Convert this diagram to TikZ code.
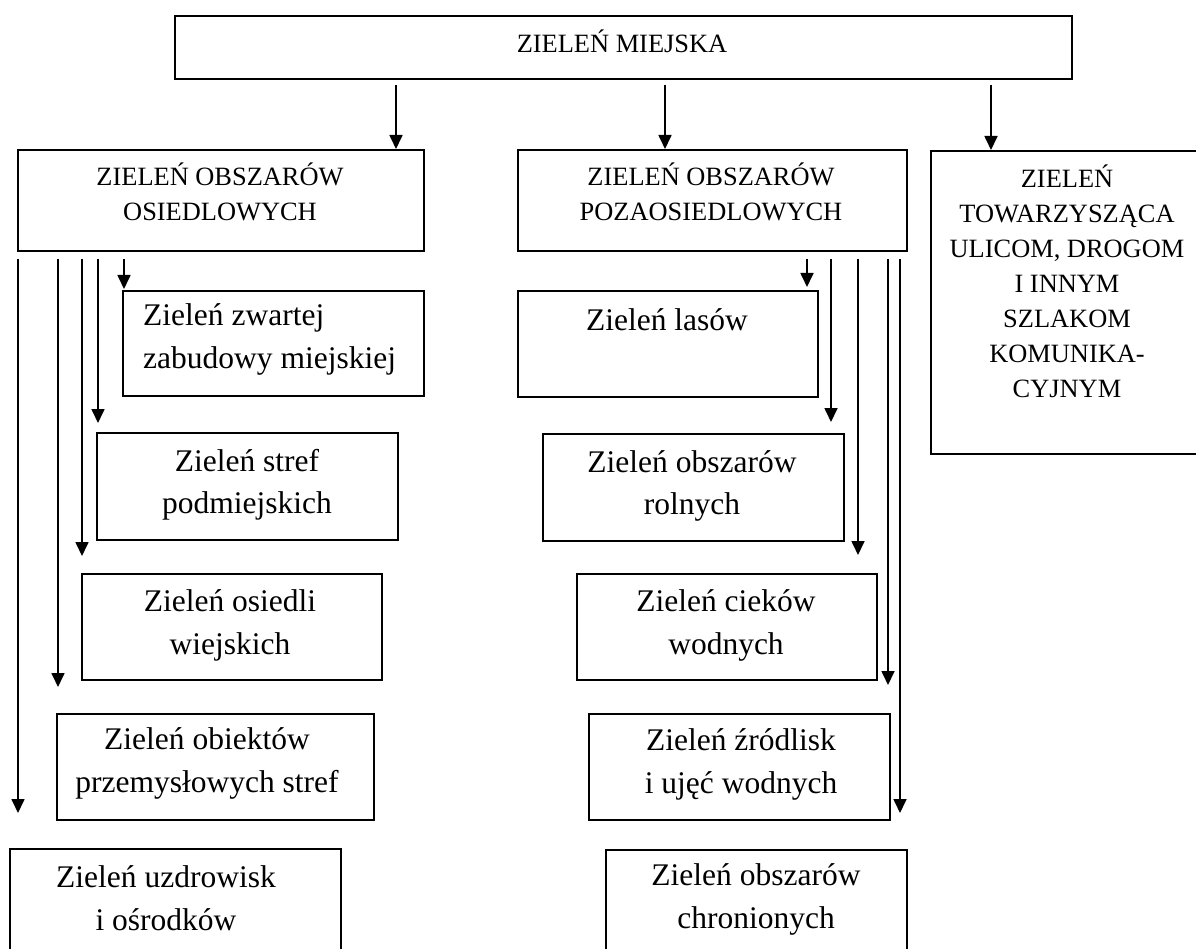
\documentclass[tikz,border=0pt]{standalone}
\usepackage{fontspec}
\setmainfont{Liberation Serif}
\usetikzlibrary{arrows.meta}
\tikzset{
  box/.style={draw, line width=1.8pt, inner sep=0pt, anchor=north west},
  arr/.style={line width=1.7pt, -{Triangle[length=14pt,width=13pt]}},
  capt/.style={font=\fontsize{26.4}{35}\selectfont, align=center, inner sep=0pt},
  lowt/.style={font=\fontsize{31.5}{42.5}\selectfont, align=center, inner sep=0pt}
}
\begin{document}
\begin{tikzpicture}[x=1pt,y=-1pt]
\useasboundingbox (0,0) rectangle (1196,949);
% boxes
\node[box, minimum width=897pt, minimum height=63pt] (top) at (174,15) {};
\node[box, minimum width=406pt, minimum height=101pt] (os) at (17,149) {};
\node[box, minimum width=389pt, minimum height=101pt] (poza) at (517,149) {};
\node[box, minimum width=280pt, minimum height=303pt] (tow) at (930,150) {};
\node[box, minimum width=301pt, minimum height=105pt] (zw) at (122,290) {};
\node[box, minimum width=301pt, minimum height=107pt] (stref) at (96,432) {};
\node[box, minimum width=300pt, minimum height=106pt] (osw) at (81,573) {};
\node[box, minimum width=317pt, minimum height=106pt] (obi) at (56,713) {};
\node[box, minimum width=331pt, minimum height=120pt] (uzd) at (9,848) {};
\node[box, minimum width=300pt, minimum height=106pt] (las) at (517,290) {};
\node[box, minimum width=301pt, minimum height=107pt] (rol) at (542,433) {};
\node[box, minimum width=300pt, minimum height=106pt] (cie) at (576,573) {};
\node[box, minimum width=301pt, minimum height=106pt] (zro) at (588,713) {};
\node[box, minimum width=301pt, minimum height=120pt] (chr) at (605,849) {};
% texts
\node[capt] (ttop) at (622,41) {ZIELEŃ MIEJSKA};
\node[capt] (tos) at (220,191.5) {ZIELEŃ OBSZARÓW\\OSIEDLOWYCH};
\node[capt] (tpoza) at (711,191.5) {ZIELEŃ OBSZARÓW\\POZAOSIEDLOWYCH};
\node[capt] (ttow) at (1067,281) {ZIELEŃ\\TOWARZYSZĄCA\\ULICOM, DROGOM\\I INNYM\\SZLAKOM\\KOMUNIKA-\\CYJNYM};
\node[lowt, align=left, anchor=west] (tzw) at (143,339.5) {Zieleń zwartej\\zabudowy miejskiej};
\node[lowt] (tstref) at (247,485) {Zieleń stref\\podmiejskich};
\node[lowt] (tosw) at (230,625.5) {Zieleń osiedli\\wiejskich};
\node[lowt] (tobi) at (207,763.5) {Zieleń obiektów\\przemysłowych stref};
\node[lowt] (tuzd) at (166,898) {Zieleń uzdrowisk\\i ośrodków};
\node[lowt] (tlas) at (667,320) {Zieleń lasów};
\node[lowt] (trol) at (692,486) {Zieleń obszarów\\rolnych};
\node[lowt] (tcie) at (726,625.5) {Zieleń cieków\\wodnych};
\node[lowt] (tzro) at (741,764.5) {Zieleń źródlisk\\i ujęć wodnych};
\node[lowt] (tchr) at (756,899.5) {Zieleń obszarów\\chronionych};
% connector x positions
\coordinate (a1) at (396,0);
\coordinate (a2) at (665,0);
\coordinate (a3) at (991,0);
\coordinate (l1) at (124,0);
\coordinate (l2) at (98,0);
\coordinate (l3) at (82,0);
\coordinate (l4) at (58,0);
\coordinate (l5) at (18,0);
\coordinate (r1) at (807,0);
\coordinate (r2) at (831,0);
\coordinate (r3) at (858,0);
\coordinate (r4) at (888,0);
\coordinate (r5) at (900,0);
% top arrows
\draw[arr] ([yshift=-5pt]top.south -| a1) -- (os.north -| a1);
\draw[arr] ([yshift=-5pt]top.south -| a2) -- (poza.north -| a2);
\draw[arr] ([yshift=-5pt]top.south -| a3) -- (tow.north -| a3);
% left column
\draw[arr, shorten >=1pt] ([yshift=-7pt]os.south -| l1) -- (zw.north -| l1);
\draw[arr, shorten >=9pt] ([yshift=-7pt]os.south -| l2) -- (stref.north -| l2);
\draw[arr, shorten >=17pt] ([yshift=-7pt]os.south -| l3) -- (osw.north -| l3);
\draw[arr, shorten >=26pt] ([yshift=-7pt]os.south -| l4) -- (obi.north -| l4);
\draw[arr, shorten >=35pt] ([yshift=-7pt]os.south -| l5) -- (uzd.north -| l5);
% right column
\draw[arr, shorten >=3pt] ([yshift=-7pt]poza.south -| r1) -- (las.north -| r1);
\draw[arr, shorten >=11pt] ([yshift=-7pt]poza.south -| r2) -- (rol.north -| r2);
\draw[arr, shorten >=18pt] ([yshift=-7pt]poza.south -| r3) -- (cie.north -| r3);
\draw[arr, shorten >=28pt] ([yshift=-7pt]poza.south -| r4) -- (zro.north -| r4);
\draw[arr, shorten >=36pt] ([yshift=-7pt]poza.south -| r5) -- (chr.north -| r5);
\end{tikzpicture}
\end{document}
